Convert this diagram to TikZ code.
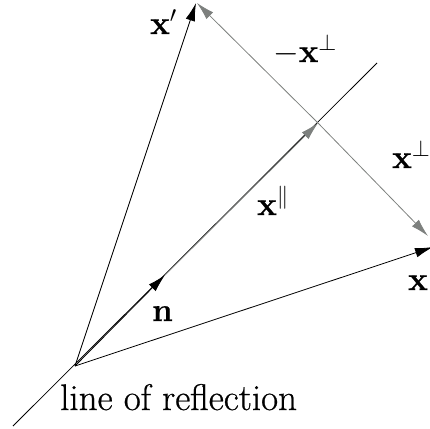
\RequirePackage{fix-cm}
\documentclass[tikz,border=0pt]{standalone}
\usepackage{fontspec}
\setmainfont{Latin Modern Roman}[FakeBold=0.6]
\usetikzlibrary{arrows.meta}
\definecolor{vgray}{RGB}{125,128,126}
\tikzset{
  blackvec/.style={draw=black, line width=0.8pt, -{Latex[length=18pt,width=9.5pt]}},
  grayvec/.style={draw=vgray, line width=0.8pt, -{Latex[length=18pt,width=9.5pt]}},
  plainline/.style={draw=black, line width=0.8pt},
  lbl/.style={anchor=base west, inner sep=0pt, font=\fontsize{33}{38}\selectfont}
}
\begin{document}
\begin{tikzpicture}[x=1pt,y=-1pt]
\useasboundingbox (0,0) rectangle (430,428);
\coordinate (A) at (13,426);
\coordinate (B) at (377,63);
\coordinate (O) at (75,366);
\coordinate (N) at (165,275);
\coordinate (P) at (318,123);
\coordinate (X) at (433,247);
\coordinate (Xp) at (196,3);
\coordinate (G1) at (197,3);
\coordinate (G2) at (428,236);
% line of reflection
\draw[plainline] (A) -- (B);
% parallel component
\draw[grayvec] (N) -- (P);
% perpendicular components
\draw[grayvec] (P) -- (G1);
\draw[grayvec] (P) -- (G2);
% vectors
\draw[blackvec] (O) -- (N);
\draw[blackvec] (O) -- (X);
\draw[blackvec] (O) -- (Xp);
% labels
\node[lbl] (lxp) at (150,34) {$\mathbf{x}'$};
\node[lbl] (lmperp) at (273,62) {$-\mathbf{x}^{\perp}$};
\node[lbl] (lperp) at (392,168) {$\mathbf{x}^{\perp}$};
\node[lbl] (lpar) at (257,215) {$\mathbf{x}^{\|}$};
\node[lbl] (lx) at (408,290) {$\mathbf{x}$};
\node[lbl] (ln) at (152,321) {$\mathbf{n}$};
\node[lbl, font=\fontsize{37}{44}\selectfont] (lref) at (60,410) {line of reflection};
\end{tikzpicture}
\end{document}
